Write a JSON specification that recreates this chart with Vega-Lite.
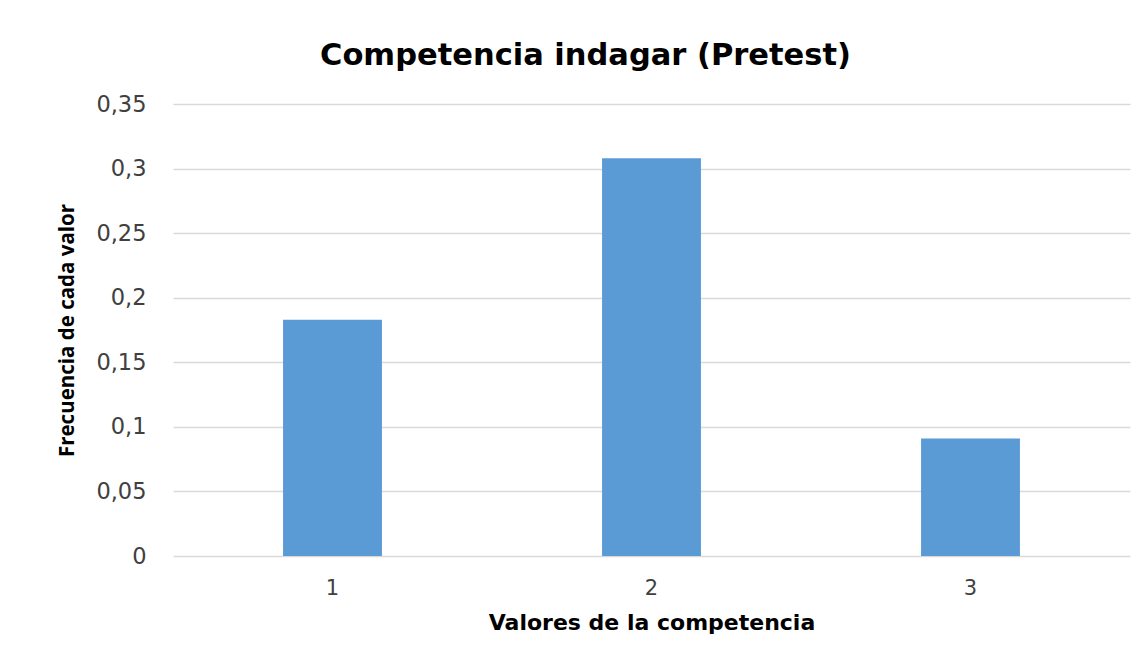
{
  "$schema": "https://vega.github.io/schema/vega-lite/v6.json",
  "width": 957,
  "height": 452,
  "autosize": {"type": "none"},
  "padding": {"left": 173, "top": 104, "right": 16, "bottom": 104},
  "background": "white",
  "title": {
    "text": "Competencia indagar (Pretest)",
    "font": "DejaVu Sans",
    "fontSize": 30.5,
    "fontWeight": "bold",
    "color": "#000000",
    "anchor": "middle",
    "frame": "group",
    "offset": 22,
    "dx": -66
  },
  "data": {
    "values": [
      {"valor": "1", "frecuencia": 0.183},
      {"valor": "2", "frecuencia": 0.308},
      {"valor": "3", "frecuencia": 0.091}
    ]
  },
  "mark": {"type": "bar", "color": "#5b9bd5"},
  "encoding": {
    "x": {
      "field": "valor",
      "type": "ordinal",
      "sort": null,
      "scale": {"paddingInner": 0.69, "paddingOuter": 0.345},
      "axis": {
        "title": "Valores de la competencia",
        "titleFont": "DejaVu Sans",
        "titleFontSize": 22,
        "titleFontWeight": "bold",
        "titleColor": "#000000",
        "titlePadding": 14,
        "labelAngle": 0,
        "labelFont": "DejaVu Sans",
        "labelFontSize": 21,
        "labelColor": "#404040",
        "labelPadding": 21,
        "ticks": false,
        "domain": false,
        "grid": false
      }
    },
    "y": {
      "field": "frecuencia",
      "type": "quantitative",
      "scale": {"domain": [0, 0.35], "nice": false},
      "axis": {
        "title": "Frecuencia de cada valor",
        "titleFont": "Open Sans",
        "titleFontSize": 20.5,
        "titleFontWeight": "bold",
        "titleColor": "#000000",
        "titlePadding": 18,
        "values": [0, 0.05, 0.1, 0.15, 0.2, 0.25, 0.3, 0.35],
        "labelExpr": "replace(format(datum.value, '~g'), '.', ',')",
        "labelFont": "DejaVu Sans",
        "labelFontSize": 22.5,
        "labelColor": "#404040",
        "labelPadding": 27,
        "ticks": false,
        "domain": false,
        "grid": true,
        "gridColor": "#d9d9d9",
        "gridWidth": 1.3
      }
    }
  },
  "config": {"view": {"stroke": null}}
}
